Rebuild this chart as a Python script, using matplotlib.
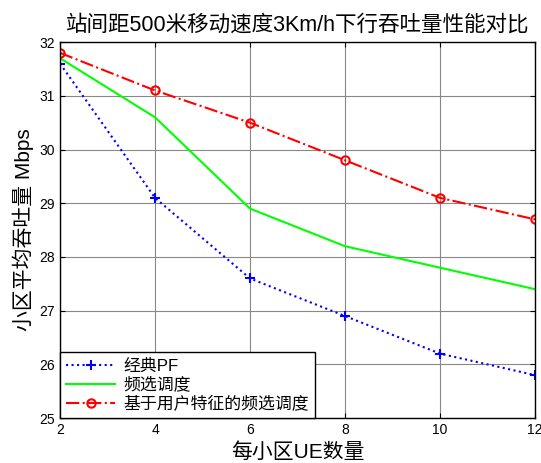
import numpy as np
import matplotlib
matplotlib.use("Agg")
import matplotlib.pyplot as plt

plt.rcParams['font.family'] = ['Liberation Sans', 'Noto Sans CJK SC']

ue = [2, 4, 6, 8, 10, 12]
pf = [31.6, 29.1, 27.6, 26.9, 26.2, 25.8]
freq_sel = [31.7, 30.6, 28.9, 28.2, 27.8, 27.4]
user_feat = [31.8, 31.1, 30.5, 29.8, 29.1, 28.7]

fig = plt.figure(figsize=(5.41, 4.63), dpi=100)
ax = fig.add_axes([0.111, 0.097, 0.878, 0.812])

ax.plot(ue, pf, color='blue', linestyle=':', linewidth=1.5, marker='+',
        markersize=7, markeredgewidth=1.5, label='经典PF')
ax.plot(ue, freq_sel, color='#00ff00', linestyle='-', linewidth=1.5, label='频选调度')
ax.plot(ue, user_feat, color='red', linestyle='-.', linewidth=1.5, marker='o',
        markersize=6, markerfacecolor='none', markeredgewidth=1.5,
        label='基于用户特征的频选调度')

ax.set_xlim(2, 12)
ax.set_ylim(25, 32)
ax.set_xticks(ue)
ax.set_yticks(range(25, 33))
ax.grid(True, color='#888888', linewidth=0.8)
ax.tick_params(direction='in', labelsize=10, top=True, right=True)
for s in ax.spines.values():
    s.set_linewidth(1.0)

ax.set_title('站间距500米移动速度3Km/h下行吞吐量性能对比', fontsize=15.5, pad=8)
ax.set_xlabel('每小区UE数量', fontsize=15)
ax.set_ylabel('小区平均吞吐量 Mbps', fontsize=15)

leg = ax.legend(loc='lower left', fontsize=12.2, fancybox=False, framealpha=1,
                edgecolor='black', borderaxespad=0.0, handlelength=2.9,
                handletextpad=0.5, labelspacing=0.2, borderpad=0.35)
leg.get_frame().set_linewidth(1.0)

fig.savefig('out.png', dpi=100)
